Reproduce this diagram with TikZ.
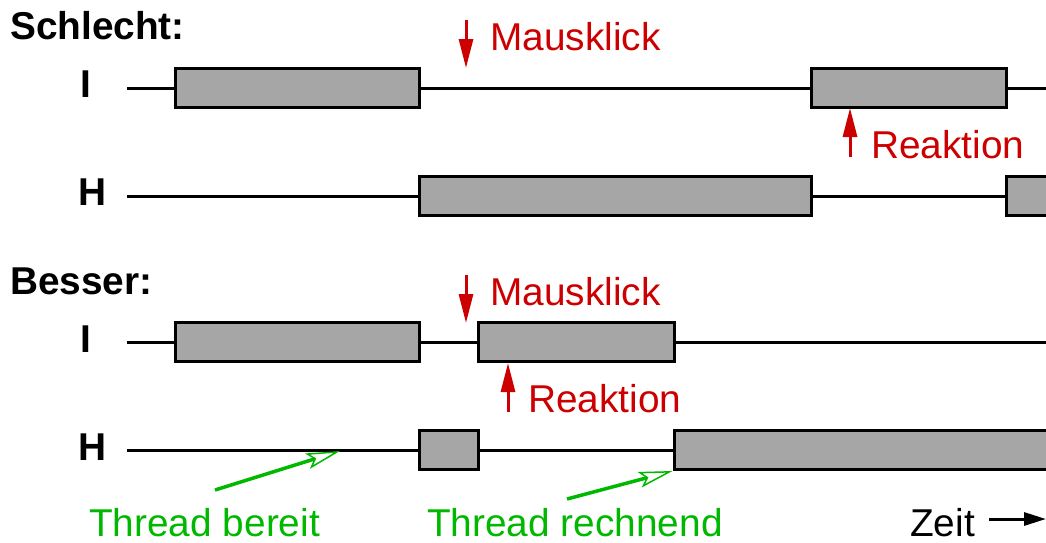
\documentclass[tikz,border=0pt]{standalone}
\usepackage{fontspec}
\setmainfont{Liberation Sans}
\usetikzlibrary{arrows.meta}
\definecolor{boxgray}{RGB}{166,166,166}
\definecolor{clickred}{RGB}{204,0,0}
\definecolor{threadgreen}{RGB}{0,184,0}
\tikzset{
    lane/.style = {line width=3pt},
    busy/.style = {rectangle,draw,fill=boxgray,line width=3pt,minimum height=39pt,inner sep=0pt},
    title/.style = {anchor=base west,inner sep=0pt,font=\fontsize{38.8}{40}\selectfont\bfseries},
    event/.style = {anchor=base west,inner sep=0pt,text=clickred,font=\fontsize{38.8}{40}\selectfont},
    note/.style = {anchor=base west,inner sep=0pt,text=threadgreen,font=\fontsize{38.8}{40}\selectfont},
    eventarrow/.style = {clickred,line width=3pt,-{Triangle[length=29pt,width=14pt]}},
    notearrow/.style = {threadgreen,line width=3.5pt,-{Stealth[open,length=34pt,width=16pt,inset=7pt,line width=1.5pt]}}}

\begin{document}
\begin{tikzpicture}[x=1pt,y=-1pt]
        \clip (0,0) rectangle (1046,542);
        % Schlecht
        \node[title] (schlecht) at (10,39) {Schlecht:};
        \node[title] (sI) at (80,97) {I};
        \node[title] (sH) at (78,205) {H};
        \coordinate (sIa) at (127,88);
        \coordinate (sIb) at (1060,88);
        \coordinate (sHa) at (127,196);
        \node[busy,minimum width=244pt] (sI1) at (297,88) {};
        \node[busy,minimum width=195pt] (sI2) at (908.5,88) {};
        \node[busy,minimum width=392pt] (sH1) at (615,196) {};
        \node[busy,minimum width=100pt] (sH2) at (1056,196) {};
        \draw[lane] (sIa) -- (sI1.west) (sI1.east) -- (sI2.west) (sI2.east) -- (sIb);
        \draw[lane] (sHa) -- (sH1.west) (sH1.east) -- (sH2.west);
        \node[event] (sklick) at (490,50) {Mausklick};
        \node[event] (sreak) at (871,158) {Reaktion};
        \coordinate (sk0) at (466,20);
        \coordinate (sk1) at (466,68);
        \coordinate (sr0) at (850,157);
        \coordinate (sr1) at (850,108);
        \draw[eventarrow] (sk0) -- (sk1);
        \draw[eventarrow] (sr0) -- (sr1);
        % Besser
        \node[title] (besser) at (10,294) {Besser:};
        \node[title] (bI) at (80,352) {I};
        \node[title] (bH) at (78,460) {H};
        \coordinate (bIa) at (127,342);
        \coordinate (bIb) at (1060,342);
        \coordinate (bHa) at (127,450);
        \node[busy,minimum width=244pt] (bI1) at (297,342) {};
        \node[busy,minimum width=196pt] (bI2) at (576,342) {};
        \node[busy,minimum width=59pt] (bH1) at (448.5,450) {};
        \node[busy,minimum width=400pt] (bH2) at (874,450) {};
        \draw[lane] (bIa) -- (bI1.west) (bI1.east) -- (bI2.west) (bI2.east) -- (bIb);
        \draw[lane] (bHa) -- (bH1.west) (bH1.east) -- (bH2.west);
        \node[event] (bklick) at (490,305) {Mausklick};
        \node[event] (break) at (528,412) {Reaktion};
        \coordinate (bk0) at (466,275);
        \coordinate (bk1) at (466,323);
        \coordinate (br0) at (508,412);
        \coordinate (br1) at (508,363);
        \draw[eventarrow] (bk0) -- (bk1);
        \draw[eventarrow] (br0) -- (br1);
        % Threadzustand
        \node[note] (bereit) at (89,536) {Thread bereit};
        \node[note] (rechnend) at (427,536) {Thread rechnend};
        \coordinate (g0) at (215,490);
        \coordinate (g1) at (340,451);
        \coordinate (g2) at (567,499);
        \draw[notearrow] (g0) -- (g1);
        \draw[notearrow] (g2) -- (bH2.south west);
        % Zeitachse
        \node[anchor=base west,inner sep=0pt,font=\fontsize{38.8}{40}\selectfont] (zeit) at (910,536) {Zeit};
        \coordinate (z1) at (1046,519);
        \draw[line width=3pt,-{Triangle[length=22pt,width=13pt]}] ([xshift=14pt]zeit.east |- z1) -- (z1);
\end{tikzpicture}
\end{document}
